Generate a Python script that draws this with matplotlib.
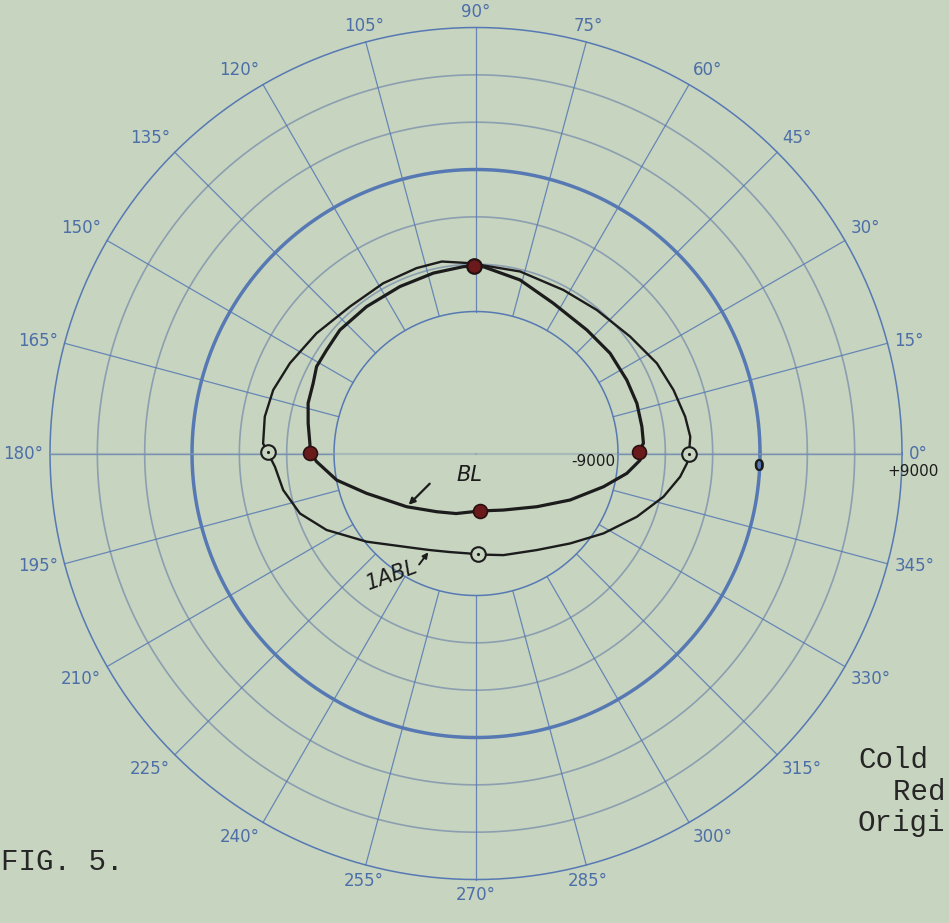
import numpy as np
import matplotlib.pyplot as plt

# radial values (ring -9000 .. +9000, centre of chart = -18000)
ring_values = [-9000, -6000, -3000, 0, 3000, 6000, 9000]
spoke_angles = list(range(0, 360, 15))

# curve BL (filled dots)
bl_theta = [0.5, 3.5, 9.2, 17.3, 26.0, 36.8, 48.1, 62.8, 75.8, 87.8, 90.6, 93.9,
            103.3, 114.5, 126.7, 137.8, 145.3, 151.4, 156.7, 163.3, 169.8, 176.5,
            179.7, 182.9, 190.8, 200.0, 217.5, 236.0, 251.6, 274.0, 295.8, 318.8,
            333.7, 345.4, 352.5, 357.7, 360.5]
bl_value = [-7700, -7370, -7350, -7320, -7370, -7390, -7480, -7290, -6650, -6150,
            -6100, -6130, -6250, -6370, -6390, -6350, -6480, -6490, -6760, -6890,
            -7190, -7450, -7500, -7880, -9010, -10620, -12460, -13550, -13990,
            -14350, -14020, -12880, -11350, -9650, -8360, -7590, -7700]
bl_mark_theta = [0.5, 90.6, 179.7, 274.0]
bl_mark_value = [-7700, -6100, -7500, -14350]

# curve 1ABL (open circles)
abl_theta = [0, 4.5, 10.0, 17.8, 26.5, 37.2, 49.9, 61.9, 76.4, 88.8, 90.6, 91.8,
             100.1, 107.8, 118.6, 130.6, 143.0, 154.1, 162.6, 170.1, 177.3, 179.7,
             183.8, 190.7, 198.8, 207.1, 218.9, 238.0, 244.5, 255.2, 265.6, 271.1,
             285.1, 302.2, 316.3, 327.9, 338.5, 347.0, 353.5, 357.3, 360]
abl_value = [-4500, -4380, -4540, -4850, -5190, -5740, -6110, -6250, -6130, -6040,
             -6100, -5930, -5640, -5660, -5710, -5730, -5340, -4890, -4530, -4410,
             -4490, -4800, -5230, -5560, -6210, -7360, -9100, -10910, -11220,
             -11540, -11650, -11600, -11330, -10770, -9750, -8470, -7050, -5810,
             -4980, -4620, -4500]
abl_mark_theta = [0, 90.6, 179.7, 271.1]
abl_mark_value = [-4500, -6100, -4800, -11600]

bg = '#c7d4c0'
blue = '#5679b3'
greyblue = '#8c9fb0'
ink = '#1c1c1c'
dot_red = '#6b1a1c'

fig = plt.figure(figsize=(9.49, 9.23), dpi=100, facecolor=bg)
ax = fig.add_axes([0.0527, 0.0471, 0.8978, 0.9231], projection='polar')
ax.set_facecolor('none')
ax.set_ylim(-18000, 9000)
ax.set_xticks([])
ax.set_yticks([])
ax.grid(False)
ax.spines['polar'].set_visible(False)

# rings
full = np.linspace(0, 2 * np.pi, 721)
for v in ring_values:
    if v == 0:
        c, lw = blue, 2.5
    elif v in (-9000, 9000):
        c, lw = blue, 1.1
    else:
        c, lw = greyblue, 1.2
    ax.plot(full, np.full_like(full, v), color=c, lw=lw, clip_on=False, zorder=1)

# spokes, plus faint 0-180 diameter through the middle
for a in spoke_angles:
    t = np.radians(a)
    ax.plot([t, t], [-9000, 9000], color=blue, lw=0.9, alpha=0.85,
            clip_on=False, zorder=1)
ax.plot([0, 0], [-18000, 9000], color=greyblue, lw=1.6, alpha=0.5, zorder=1)
ax.plot([np.pi, np.pi], [-18000, 9000], color=greyblue, lw=1.6, alpha=0.5, zorder=1)

# angle labels just outside the end of each spoke
for a in spoke_angles:
    t = np.radians(a)
    c, s = np.cos(t), np.sin(t)
    ha = 'left' if c > 0.3 else ('right' if c < -0.3 else 'center')
    va = 'bottom' if s > 0.3 else ('top' if s < -0.3 else 'center')
    ax.annotate(f"{a}°", xy=(t, 9000), xytext=(5 * c, 5 * s),
                textcoords='offset points', ha=ha, va=va,
                color='#4d6fa8', fontsize=12, annotation_clip=False)

# curves
ax.plot(np.radians(abl_theta), abl_value, color=ink, lw=1.7, zorder=3)
ax.plot(np.radians(bl_theta), bl_value, color=ink, lw=2.3, zorder=3)

ax.plot(np.radians(abl_mark_theta), abl_mark_value, 'o', ms=10.5, mfc=bg,
        mec=ink, mew=1.5, zorder=4)
ax.plot(np.radians(abl_mark_theta), abl_mark_value, '.', ms=2.5, color=ink, zorder=5)
ax.plot(np.radians(bl_mark_theta), bl_mark_value, 'o', ms=10, mfc=dot_red,
        mec='#2a1010', mew=1.2, zorder=6)

hand = dict(color=ink, fontstyle='italic', fontsize=15)

# BL tag with arrow to its curve
bl_pt = (np.radians(217.5), -12460)
ax.annotate('', xy=bl_pt, xytext=(18, 18), textcoords='offset points',
            arrowprops=dict(arrowstyle='-|>', lw=1.6, color=ink, mutation_scale=9))
ax.annotate('BL', xy=bl_pt, xytext=(45, 23), textcoords='offset points',
            ha='center', va='center', **hand)

# 1ABL tag with arrow to its curve
abl_pt = (np.radians(244.5), -11220)
ax.annotate('', xy=abl_pt, xytext=(-9, -12), textcoords='offset points',
            arrowprops=dict(arrowstyle='-|>', lw=1.4, color=ink, mutation_scale=8))
ax.annotate('1ABL', xy=abl_pt, xytext=(-27, -18), textcoords='offset points',
            ha='center', va='center', rotation=20, **hand)

# scale notes on the 0 deg line
ax.annotate('-9000', xy=(0, -9000), xytext=(-2, -6), textcoords='offset points',
            ha='right', va='center', color=ink, fontsize=11)
ax.annotate('+9000', xy=(0, 9000), xytext=(8, -13), textcoords='offset points',
            ha='center', va='center', color=ink, fontsize=11)
ax.annotate('0', xy=(0, 0), xytext=(-1, -9), textcoords='offset points',
            ha='center', va='center', color=ink, fontsize=11, fontweight='bold')

# typed captions
type_font = dict(family='Liberation Mono', fontsize=21, color='#262626')
fig.text(0.001, 0.066, 'FIG. 5.', ha='left', va='center', **type_font)
fig.text(0.904, 0.177, 'Cold', ha='left', va='center', **type_font)
fig.text(0.904, 0.142, '  Red', ha='left', va='center', **type_font)
fig.text(0.904, 0.108, 'Origi', ha='left', va='center', **type_font)

fig.savefig('out.png', dpi=100, facecolor=bg)
